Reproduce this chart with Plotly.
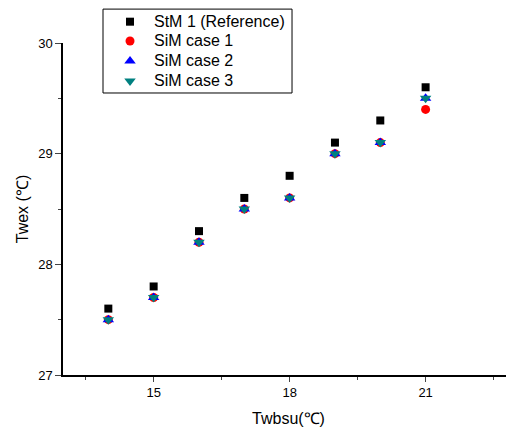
import plotly.graph_objects as go

x_vals = [14, 15, 16, 17, 18, 19, 20, 21]
stm1 = [27.6, 27.8, 28.3, 28.6, 28.8, 29.1, 29.3, 29.6]
sim1 = [27.5, 27.7, 28.2, 28.5, 28.6, 29.0, 29.1, 29.4]
sim2 = [27.5, 27.7, 28.2, 28.5, 28.6, 29.0, 29.1, 29.5]
sim3 = [27.5, 27.7, 28.2, 28.5, 28.6, 29.0, 29.1, 29.5]
names = ["StM 1 (Reference)", "SiM case 1", "SiM case 2", "SiM case 3"]

FONT = "Liberation Sans, Arial, sans-serif"
styles = [
    dict(symbol="square", size=8, color="black"),
    dict(symbol="circle", size=9, color="#ff0000"),
    dict(symbol="triangle-up", size=10, color="#0000ff"),
    dict(symbol="triangle-down", size=10, color="#008080"),
]
series = [stm1, sim1, sim2, sim3]

fig = go.Figure()
for nm, ys, st in zip(names, series, styles):
    fig.add_trace(go.Scatter(x=x_vals, y=ys, mode="markers", name=nm,
                             marker=st, showlegend=False))

# Legend drawn manually (box + symbols + labels) to match the compact row spacing.
# A hidden full-paper subplot (x2/y2, range 0..1) places the legend symbols.
leg_left, leg_right, leg_top, leg_bottom = 0.0887, 0.5078, 0.997, 0.7684
sym_x, txt_x = 0.1486, 0.1975
row_y = [0.9627, 0.9101, 0.8556, 0.8011]
fig.add_shape(type="rect", xref="paper", yref="paper",
              x0=leg_left, x1=leg_right, y0=leg_bottom, y1=leg_top,
              line=dict(color="black", width=1), fillcolor="rgba(0,0,0,0)",
              layer="above")
for nm, st, ry in zip(names, styles, row_y):
    fig.add_trace(go.Scatter(x=[sym_x], y=[ry], mode="markers", marker=st,
                             xaxis="x2", yaxis="y2", showlegend=False,
                             hoverinfo="skip", name=nm))
    fig.add_annotation(x=txt_x, y=ry, xref="paper", yref="paper", text=nm,
                       showarrow=False, xanchor="left", yanchor="middle",
                       font=dict(family=FONT, size=16, color="black"))

# page body has an 8px default margin; the figure is sized to fit the window
fig.update_layout(
    width=506, height=419,
    margin=dict(l=55, r=0, t=0, b=52, autoexpand=False),
    plot_bgcolor="rgba(0,0,0,0)", paper_bgcolor="white",
    font=dict(family=FONT, size=13, color="black"),
    showlegend=False,
    xaxis2=dict(domain=[0, 1], anchor="y2", range=[0, 1], visible=False, fixedrange=True),
    yaxis2=dict(domain=[0, 1], anchor="x2", range=[0, 1], visible=False, fixedrange=True),
    xaxis=dict(
        range=[13, 22.95], showline=True, linecolor="black", linewidth=1.5,
        showgrid=False, zeroline=False, ticks="outside", ticklen=5, tickwidth=1,
        tick0=15, dtick=3, tickfont=dict(size=13), automargin=False,
        minor=dict(ticks="outside", ticklen=3, dtick=1.5, tick0=15, showgrid=False),
        title=dict(text="Twbsu(℃)", font=dict(size=16), standoff=14),
    ),
    yaxis=dict(
        domain=[0, 332 / 367], automargin=False,
        range=[27, 30], showline=True, linecolor="black", linewidth=1.5,
        showgrid=False, zeroline=False, ticks="outside", ticklen=6, tickwidth=1,
        tick0=27, dtick=1, tickfont=dict(size=13),
        minor=dict(ticks="outside", ticklen=3, dtick=0.5, tick0=27, showgrid=False),
        title=dict(text="Twex (℃)", font=dict(size=16), standoff=6),
    ),
)

fig.write_html("out.html")
